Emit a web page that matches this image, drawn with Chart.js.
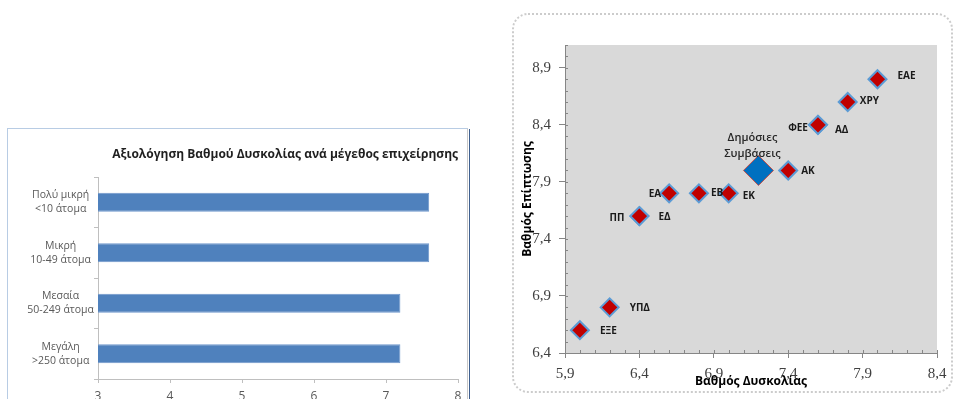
<!DOCTYPE html>
<html>
<head>
<meta charset="utf-8">
<title>Βαθμός Δυσκολίας και Επίπτωσης</title>
<script src="https://cdn.jsdelivr.net/npm/chart.js@4"></script>
<style>
  html, body { margin: 0; padding: 0; background: #fff; }
  body { width: 954px; height: 399px; position: relative; overflow: hidden; }
  #barPanel {
    position: absolute; left: 7px; top: 128px; width: 459px; height: 300px;
    border-left: 1px solid #b8cce4; border-top: 1px solid #b8cce4; border-right: 1px solid #c8c8c8;
  }
  #barPanel::after {
    content: ''; position: absolute; right: -3px; top: 0; bottom: 0; width: 1px; background: #3f5f8f;
  }
  #scatterPanel {
    position: absolute; left: 512px; top: 13px; width: 437px; height: 376px;
    border: 2px dotted #cccccc; border-radius: 16px;
  }
  #barBox { position: absolute; left: 7px; top: 129px; width: 461px; height: 270px; }
  #scatterBox { position: absolute; left: 480px; top: 0; width: 474px; height: 399px; }
</style>
</head>
<body>
<div id="barPanel"></div>
<div id="scatterPanel"></div>
<div id="barBox"><canvas id="barChart"></canvas></div>
<div id="scatterBox"><canvas id="scatterChart"></canvas></div>
<script>
// ---- Difficulty rating by company size ----
const sizeCategories = [
  ['Πολύ μικρή', '<10 άτομα'],
  ['Μικρή', '10-49 άτομα'],
  ['Μεσαία', '50-249 άτομα'],
  ['Μεγάλη', '>250 άτομα']
];
const sizeDifficulty = [7.6, 7.6, 7.2, 7.2];
const barTitle = 'Αξιολόγηση Βαθμού Δυσκολίας ανά μέγεθος επιχείρησης';

// ---- Difficulty vs impact per sector ----
const sectors    = ['ΕΑΕ', 'ΧΡΥ', 'ΦΕΕ', 'ΑΔ', 'ΑΚ', 'ΕΑ', 'ΕΒ', 'ΕΚ', 'ΠΠ', 'ΕΔ', 'ΥΠΔ', 'ΕΞΕ'];
const difficulty = [8.0, 7.8, 7.6, 7.6, 7.4, 6.6, 6.8, 7.0, 6.4, 6.4, 6.2, 6.0];
const impact     = [8.8, 8.6, 8.4, 8.4, 8.0, 7.8, 7.8, 7.8, 7.6, 7.6, 6.8, 6.6];
const publicLabel = ['Δημόσιες', 'Συμβάσεις'];
const publicDifficulty = [7.2];
const publicImpact = [8.0];

const xTickValues = [5.9, 6.4, 6.9, 7.4, 7.9, 8.4];
const xTickLabels = ['5,9', '6,4', '6,9', '7,4', '7,9', '8,4'];
const yTickValues = [6.4, 6.9, 7.4, 7.9, 8.4, 8.9];
const yTickLabels = ['6,4', '6,9', '7,4', '7,9', '8,4', '8,9'];

Chart.defaults.font.family = "'Open Sans', 'Noto Sans', sans-serif";
Chart.defaults.animation = false;

// Horizontal bar chart
new Chart(document.getElementById('barChart'), {
  type: 'bar',
  data: {
    labels: sizeCategories,
    datasets: [{
      data: sizeDifficulty,
      backgroundColor: '#4f81bd',
      borderColor: '#6f97cc',
      borderWidth: 1,
      barPercentage: 0.38,
      categoryPercentage: 1
    }]
  },
  options: {
    indexAxis: 'y',
    responsive: true,
    maintainAspectRatio: false,
    layout: { padding: { left: 0, right: 10, top: 0, bottom: 0 } },
    plugins: {
      legend: { display: false },
      tooltip: { enabled: false },
      title: {
        display: true,
        text: barTitle,
        align: 'end',
        color: '#1f1f1f',
        font: { size: 12, weight: 'bold', lineHeight: 1.2 },
        padding: { top: 18, bottom: 15.6 }
      }
    },
    scales: {
      x: {
        min: 3, max: 8,
        ticks: { stepSize: 1, color: '#595959', font: { size: 12 }, padding: 6 },
        grid: { drawOnChartArea: false, tickLength: 4, color: '#bfbfbf' },
        border: { color: '#bfbfbf' },
        afterFit(scale) { scale.height = 20; }
      },
      y: {
        ticks: { color: '#595959', font: { size: 10.5, lineHeight: 1.35 }, crossAlign: 'center', padding: 0 },
        grid: { drawOnChartArea: false, tickLength: 4, color: '#bfbfbf', offset: true },
        border: { color: '#bfbfbf' },
        afterFit(scale) { scale.width = 91; }
      }
    }
  }
});

// Grey plot area and inner minor tick marks
const plotBackground = {
  id: 'plotBackground',
  beforeDraw(chart) {
    const { ctx, chartArea: a } = chart;
    ctx.save();
    ctx.fillStyle = '#d9d9d9';
    ctx.fillRect(a.left, a.top, a.right - a.left, a.bottom - a.top);
    ctx.restore();
  },
  afterDraw(chart) {
    const { ctx, chartArea: a, scales: { x, y } } = chart;
    ctx.save();
    ctx.strokeStyle = '#868686';
    ctx.lineWidth = 1;
    ctx.beginPath();
    for (let i = 0; i <= Math.round((x.max - x.min) * 10); i++) {
      const px = Math.round(x.getPixelForValue(x.min + i / 10)) + 0.5;
      ctx.moveTo(px, a.bottom);
      ctx.lineTo(px, a.bottom - 3);
    }
    for (let i = 0; i <= Math.round((y.max - y.min) * 10); i++) {
      const py = Math.round(y.getPixelForValue(y.min + i / 10)) + 0.5;
      ctx.moveTo(a.left, py);
      ctx.lineTo(a.left + 3, py);
    }
    ctx.stroke();
    ctx.restore();
  }
};

// Sector labels beside each diamond
const labelPlacement = {
  'ΕΑΕ': [20, -3], 'ΧΡΥ': [12, -1], 'ΦΕΕ': [-10, 3, 'right'], 'ΑΔ': [17, 5],
  'ΑΚ': [13, 1], 'ΕΑ': [-8, 1, 'right'], 'ΕΒ': [12, 0], 'ΕΚ': [14, 3],
  'ΠΠ': [-15, 2, 'right'], 'ΕΔ': [19, 1], 'ΥΠΔ': [20, 1], 'ΕΞΕ': [20, 1]
};
const pointLabels = {
  id: 'pointLabels',
  afterDatasetsDraw(chart) {
    const { ctx } = chart;
    ctx.save();
    ctx.fillStyle = '#1a1a1a';
    ctx.textBaseline = 'middle';
    ctx.font = "bold 10px 'Open Sans', sans-serif";
    chart.getDatasetMeta(0).data.forEach((el, i) => {
      const p = labelPlacement[sectors[i]] || [14, 0];
      ctx.textAlign = p[2] || 'left';
      ctx.fillText(sectors[i], el.x + p[0], el.y + p[1]);
    });
    const big = chart.getDatasetMeta(1).data[0];
    ctx.font = "600 11px 'Open Sans', sans-serif";
    ctx.fillStyle = '#262626';
    ctx.textAlign = 'center';
    ctx.fillText(publicLabel[0], big.x - 6, big.y - 33);
    ctx.fillText(publicLabel[1], big.x - 6, big.y - 17);
    ctx.restore();
  }
};

const tickFont = { family: "'Liberation Serif', serif", size: 15 };

new Chart(document.getElementById('scatterChart'), {
  type: 'scatter',
  data: {
    datasets: [{
      label: 'Τομείς',
      data: difficulty.map((d, i) => ({ x: d, y: impact[i] })),
      pointStyle: 'rectRot',
      pointRadius: 9,
      backgroundColor: '#c00000',
      borderColor: '#5b9bd5',
      borderWidth: 2
    }, {
      label: 'Δημόσιες Συμβάσεις',
      data: publicDifficulty.map((d, i) => ({ x: d, y: publicImpact[i] })),
      pointStyle: 'rectRot',
      pointRadius: 15,
      backgroundColor: '#0070c0',
      borderColor: '#c0504d',
      borderWidth: 1
    }]
  },
  options: {
    responsive: true,
    maintainAspectRatio: false,
    layout: { padding: { left: 0, right: 17, top: 45, bottom: 0 } },
    plugins: { legend: { display: false }, tooltip: { enabled: false } },
    scales: {
      x: {
        type: 'linear', min: 5.9, max: 8.4,
        afterBuildTicks(scale) { scale.ticks = xTickValues.map(v => ({ value: v })); },
        ticks: { callback: (v, i) => xTickLabels[i], color: '#404040', font: tickFont, padding: 7 },
        grid: { drawOnChartArea: false, tickLength: 5, color: '#868686' },
        border: { color: '#868686' },
        title: {
          display: true, text: 'Βαθμός Δυσκολίας', color: '#000',
          font: { size: 12, weight: 'bold', lineHeight: 1.2 },
          padding: { top: 0, bottom: 10 }
        },
        afterFit(scale) { scale.height = 46; }
      },
      y: {
        type: 'linear', min: 6.4, max: 9.1,
        afterBuildTicks(scale) { scale.ticks = yTickValues.map(v => ({ value: v })); },
        ticks: { callback: (v, i) => yTickLabels[i], color: '#404040', font: tickFont, padding: 8 },
        grid: { drawOnChartArea: false, tickLength: 6, color: '#868686' },
        border: { color: '#868686' },
        title: {
          display: true, text: 'Βαθμός Επίπτωσης', color: '#000',
          font: { size: 12, weight: 'bold', lineHeight: 1.2 },
          padding: { top: 40, bottom: 0 }
        },
        afterFit(scale) { scale.width = 85; }
      }
    }
  },
  plugins: [plotBackground, pointLabels]
});
</script>
</body>
</html>
